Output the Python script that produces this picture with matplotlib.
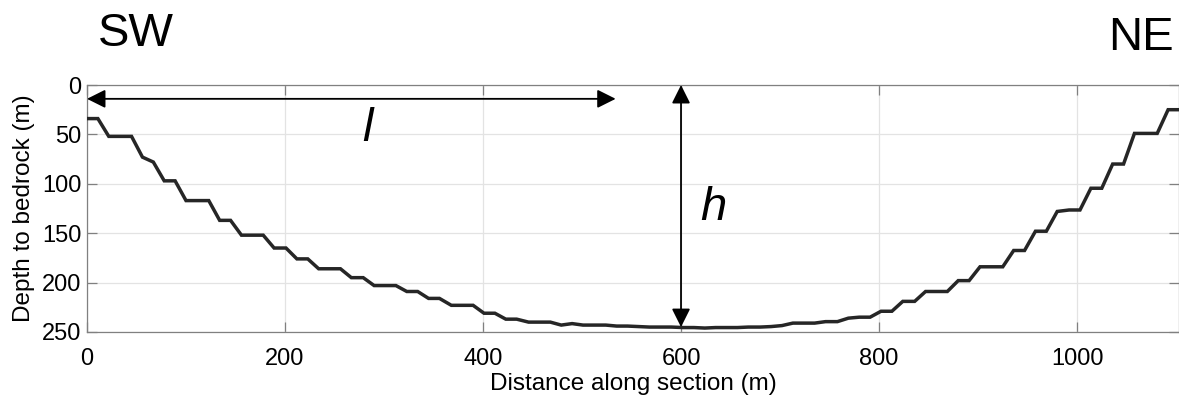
import matplotlib
matplotlib.use("Agg")
import matplotlib.pyplot as plt

# Distance along section (m)
distance = [0, 11, 22, 33, 45, 56, 67, 78, 89, 100,
            111, 123, 134, 145, 156, 167, 178, 189, 201, 212,
            223, 234, 245, 256, 267, 279, 290, 301, 312, 323,
            334, 345, 356, 368, 379, 390, 401, 412, 423, 434,
            446, 457, 468, 479, 490, 501, 512, 524, 535, 546,
            557, 568, 579, 590, 602, 613, 624, 635, 646, 657,
            668, 680, 691, 702, 713, 724, 735, 746, 758, 769,
            780, 791, 802, 813, 824, 836, 847, 858, 869, 880,
            891, 902, 914, 925, 936, 947, 958, 969, 980, 992,
            1003, 1014, 1025, 1036, 1047, 1058, 1069, 1081, 1092, 1103]
# Depth to bedrock (m)
depth = [34, 34, 52, 52, 52, 73, 78, 97, 97, 117,
         117, 117, 137, 137, 152, 152, 152, 165, 165, 176,
         176, 186, 186, 186, 195, 195, 203, 203, 203, 209,
         209, 216, 216, 223, 223, 223, 231, 231, 237, 237,
         240, 240, 240, 243, 241.5, 243, 243, 243, 244, 244,
         244.5, 245, 245, 245, 245.5, 245.5, 246, 245.5, 245.5, 245.5,
         245, 245, 244.5, 243.5, 241, 241, 241, 239.5, 239.5, 236,
         235, 235, 229, 229, 219, 219, 209, 209, 209, 198,
         198, 184, 184, 184, 167.5, 167.5, 148, 148, 128, 126.5,
         126.5, 104.5, 104.5, 80, 80, 49, 49, 49, 25, 25]

x_ticks = [0, 200, 400, 600, 800, 1000]
y_ticks = [0, 50, 100, 150, 200, 250]

plt.rcParams['font.family'] = ['Liberation Sans', 'DejaVu Sans']

fig = plt.figure(figsize=(11.79, 4.04), dpi=100)
ax = fig.add_axes([87/1179, 1 - 332/404, (1179 - 87)/1179, (332 - 85)/404])

ax.plot(distance, depth, color='#262626', lw=2.5, solid_joinstyle='miter', zorder=3)

ax.set_xlim(0, 1103)
ax.set_ylim(250, 0)
ax.set_xticks(x_ticks)
ax.set_yticks(y_ticks)
ax.grid(True, color='#e3e3e3', lw=0.9)
ax.set_axisbelow(True)
ax.tick_params(direction='in', length=7, width=0.9, color='#808080',
               labelsize=17, top=True, right=True, pad=4)
ax.tick_params(axis='x', pad=11.5)
for s in ax.spines.values():
    s.set_color('#808080')
    s.set_linewidth(0.9)

ax.set_xlabel('Distance along section (m)', fontsize=17.5, labelpad=2)
ax.set_ylabel('Depth to bedrock (m)', fontsize=17.5, labelpad=5)

# Annotation arrows
ax.annotate('', xy=(0, 14), xytext=(534, 14),
            arrowprops=dict(arrowstyle='<|-|>', color='black', lw=1.3,
                            mutation_scale=28, shrinkA=0, shrinkB=0))
ax.annotate('', xy=(600, 0), xytext=(600, 245),
            arrowprops=dict(arrowstyle='<|-|>', color='black', lw=1.3,
                            mutation_scale=28, shrinkA=0, shrinkB=0))
ax.text(283, 45, 'l', fontsize=34, style='italic', ha='center', va='center')
ax.text(633, 125, 'h', fontsize=34, style='italic', ha='center', va='center')

fig.text(136/1179, 1 - 34/404, 'SW', fontsize=34, ha='center', va='center')
fig.text(1141/1179, 1 - 38/404, 'NE', fontsize=34, ha='center', va='center')

fig.savefig('out.png', dpi=100)
